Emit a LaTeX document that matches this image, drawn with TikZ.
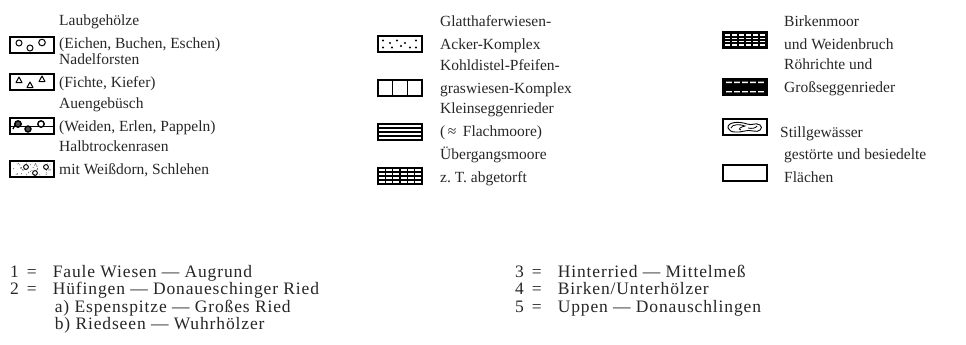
\documentclass[tikz,border=0pt]{standalone}
\usepackage{fontspec}
\setmainfont{Liberation Serif}
\usetikzlibrary{positioning}

\tikzset{
  legbox/.style={draw, line width=1.6pt, minimum width=44pt, minimum height=16pt, inner sep=0pt},
  legtext/.style={anchor=west, align=left, inner sep=0pt, text=black!85, font=\fontsize{15.5}{23}\selectfont},
  listtext/.style={anchor=west, inner sep=0pt, text=black!85,
    font=\fontsize{17.5}{17.5}\selectfont\addfontfeature{LetterSpace=5}},
  sym/.style={line width=1pt},
}

\begin{document}
\begin{tikzpicture}[x=1pt,y=-1pt]
  \useasboundingbox (0,0) rectangle (966,345);

  % first column
  \node[legbox] (laub) at (32,45) {};
  \node[legtext] (laubtxt) at (59,33) {Laubgehölze\\(Eichen, Buchen, Eschen)};
  \begin{scope}[shift={(laub.center)}]
    \draw[sym] (-13,-2) circle (3) (-2,3) circle (3) (10,-2.5) circle (3.3);
  \end{scope}

  \node[legbox] (nadel) at (32,82) {};
  \node[legtext] (nadeltxt) at (59,72) {Nadelforsten\\(Fichte, Kiefer)};
  \begin{scope}[shift={(nadel.center)}]
    \foreach \px/\py in {-13/-2, -2/3, 10/-3}
      \draw[sym, line join=round] (\px-3,\py+2.5) -- (\px,\py-3) -- (\px+3,\py+2.5) -- cycle;
  \end{scope}

  \node[legbox] (auen) at (32,126) {};
  \node[legtext] (auentxt) at (59,116) {Auengebüsch\\(Weiden, Erlen, Pappeln)};
  \begin{scope}[shift={(auen.center)}]
    \draw[sym] (-22,0) -- (22,0);
    \draw[line width=1.4pt, fill=black!70] (-14,-2) circle (3.2);
    \draw[line width=1.4pt, fill=black!70] (-4,3) circle (3);
    \draw[line width=1.4pt, fill=white] (9,-2) circle (3.2);
    \draw[line width=1.2pt] (-17,-1) -- (-19,3);
  \end{scope}

  \node[legbox] (halb) at (32,169) {};
  \node[legtext] (halbtxt) at (59,159) {Halbtrockenrasen\\mit Weißdorn, Schlehen};
  \begin{scope}[shift={(halb.center)}]
    \pgfmathsetseed{17}
    \foreach \i in {1,...,45}
      \fill[black!60] (rand*19,rand*6) circle (0.55);
    \draw[line width=0.9pt] (-6,-2) circle (2.4) (3,4) circle (2.4) (14,-2) circle (2.4);
  \end{scope}

  % second column
  \node[legbox] (glatt) at (400,44) {};
  \node[legtext] (glatttxt) at (440,34) {Glatthaferwiesen-\\Acker-Komplex};
  \begin{scope}[shift={(glatt.center)}]
    \foreach \px/\py in {-17/-3.5, -10/-1, -3/-3.5, 5/-1, 16/-3.5, -17/3.5, -8/3.5, 1/2, 10/3.5, 16/3.5}
      \fill (\px,\py) circle (1.2);
  \end{scope}

  \node[legbox] (kohl) at (400,88) {};
  \node[legtext] (kohltxt) at (440,78) {Kohldistel-Pfeifen-\\graswiesen-Komplex};
  \begin{scope}[shift={(kohl.center)}]
    \draw[line width=1.3pt] (-7.5,-8) -- (-7.5,8) (7.5,-8) -- (7.5,8);
  \end{scope}

  \node[legbox] (klein) at (400,132) {};
  \node[legtext] (kleintxt) at (440,121) {Kleinseggenrieder\\(\,≈\, Flachmoore)};
  \begin{scope}[shift={(klein.center)}]
    \foreach \py in {-4,0,4}
      \draw[line width=1.3pt] (-22,\py) -- (22,\py);
  \end{scope}

  \node[legbox] (ueber) at (400,176) {};
  \node[legtext] (uebertxt) at (440,166) {Übergangsmoore\\z.~T. abgetorft};
  \begin{scope}[shift={(ueber.center)}]
    \foreach \px in {-14.7,-7.3,0,7.3,14.7}
      \draw[line width=1.3pt] (\px,-8) -- (\px,8);
    \foreach \py in {-4,0,4}
      \draw[line width=1.3pt] (-22,\py) -- (22,\py);
  \end{scope}

  % third column
  \node[legbox, fill=black] (birk) at (745,40) {};
  \node[legtext] (birktxt) at (784,33) {Birkenmoor\\und Weidenbruch};
  \begin{scope}[shift={(birk.center)}]
    \foreach \py in {-4.8,-1.6,1.6,4.8}
      \foreach \px in {-17.5,-10.5,-3.5,3.5,10.5,17.5}
        \fill[white] (\px-2.3,\py-0.75) rectangle (\px+2.3,\py+0.75);
  \end{scope}

  \node[legbox, fill=black] (roehr) at (745,87) {};
  \node[legtext] (roehrtxt) at (784,77) {Röhrichte und\\Großseggenrieder};
  \begin{scope}[shift={(roehr.center)}]
    \foreach \px in {-16,-8,0,8,16}
      \fill[white] (\px-2.8,-5.3) rectangle (\px+2.8,-4)
                   (\px-2.8,4) rectangle (\px+2.8,5.3);
  \end{scope}

  \node[legbox] (still) at (745,127) {};
  \node[legtext] (stilltxt) at (780,134) {Stillgewässer};
  \begin{scope}[shift={(still.center)}]
    \draw[line width=0.9pt] (-17,1) .. controls (-18,-5) and (-6,-6) .. (2,-3)
      .. controls (8,-1) and (10,-5) .. (15,-2) .. controls (19,1) and (14,6) .. (8,4)
      .. controls (2,2) and (-4,6) .. (-10,5) .. controls (-14,5) and (-16,3) .. (-17,1);
    \draw[line width=0.8pt] (-14,1) .. controls (-13,-3) and (-5,-3) .. (0,-1)
      .. controls (-4,0) and (-8,2) .. (-4,3);
    \draw[line width=0.8pt] (3,1) .. controls (7,2) and (11,1) .. (12,-1);
  \end{scope}

  \node[legbox] (gest) at (745,173) {};
  \node[legtext] (gesttxt) at (784,166) {gestörte und besiedelte\\Flächen};

  % site list
  \node[listtext] (sitesl) at (10,300) {%
    \begin{tabular}{@{}l@{\hspace{8pt}}l@{\hspace{16pt}}l@{}}
      1 & = & Faule Wiesen — Augrund\\
      2 & = & Hüfingen — Donaueschinger Ried\\
        &   & \hspace*{2pt}a)\ Espenspitze — Großes Ried\\
        &   & \hspace*{2pt}b)\ Riedseen — Wuhrhölzer
    \end{tabular}};
  \node[listtext] (sitesr) at (515,291) {%
    \begin{tabular}{@{}l@{\hspace{8pt}}l@{\hspace{16pt}}l@{}}
      3 & = & Hinterried — Mittelmeß\\
      4 & = & Birken/Unterhölzer\\
      5 & = & Uppen — Donauschlingen
    \end{tabular}};
\end{tikzpicture}
\end{document}
